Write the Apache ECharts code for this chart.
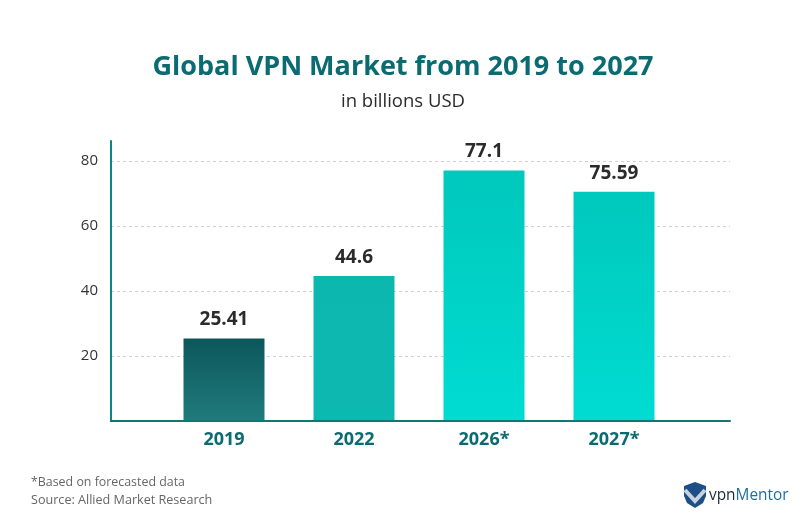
<!DOCTYPE html>
<html>
<head>
	<meta charset="utf-8">
	<title>Global VPN Market from 2019 to 2027</title>
	<style>
		html, body { margin: 0; padding: 0; background: #fff; }
		#chart { width: 806px; height: 524px; }
	</style>
	<script src="https://cdn.jsdelivr.net/npm/echarts@6/dist/echarts.min.js"></script>
</head>
<body>
<div id="chart"></div>
<script>
	var categories = ['2019', '2022', '2026*', '2027*'];
	// heights as drawn; the last bar is drawn lower than its printed label says
	var barValues = [25.41, 44.6, 77.1, 70.5];
	var barLabels = ['25.41', '44.6', '77.1', '75.59'];
	var yTicks = [20, 40, 60, 80];

	var fontName = '"Open Sans", "Noto Sans", sans-serif';
	var teal = '#0a6b70';

	function vFill(top, bottom) {
		return {
			type: 'linear', x: 0, y: 0, x2: 0, y2: 1,
			colorStops: [{ offset: 0, color: top }, { offset: 1, color: bottom }]
		};
	}
	var barFills = [
		vFill('#0c575b', '#1f7b7c'),
		vFill('#0cb7ae', '#0cb9b1'),
		vFill('#00c8bc', '#00dcd2'),
		vFill('#00c8bc', '#00dcd2')
	];

	var myChart = echarts.init(document.getElementById('chart'), null, { renderer: 'canvas' });

	var option = {
		animation: false,
		backgroundColor: '#fff',
		textStyle: { fontFamily: fontName },
		title: [
			{
				text: 'Global VPN Market from 2019 to 2027',
				left: 398, top: 49, textAlign: 'center',
				textStyle: { fontFamily: fontName, fontSize: 27, fontWeight: 'bold', color: teal }
			},
			{
				text: 'in billions USD',
				left: 398, top: 87, textAlign: 'center',
				textStyle: { fontFamily: fontName, fontSize: 18.5, fontWeight: 'normal', color: '#2b2b2b' }
			},
			{
				text: '*Based on forecasted data',
				left: 26, top: 471,
				textStyle: { fontFamily: fontName, fontSize: 12.4, fontWeight: 'normal', color: '#666' }
			},
			{
				text: 'Source: Allied Market Research',
				left: 26, top: 489,
				textStyle: { fontFamily: fontName, fontSize: 12.6, fontWeight: 'normal', color: '#666' }
			},
			{
				text: 'vpn{m|Mentor}',
				left: 704, top: 483,
				textStyle: {
					fontFamily: fontName, fontSize: 15.4, fontWeight: 'normal', color: '#1c2b3a',
					rich: { m: { fontFamily: fontName, fontSize: 15.4, color: '#1f6ea3' } }
				}
			}
		],
		// outer grid holds axis lines and gridlines, inner grid holds the bars
		grid: [
			{ left: 111, top: 141, width: 619, height: 280 },
			{ left: 159, top: 141, width: 520, height: 280 }
		],
		xAxis: [
			{
				gridIndex: 0, type: 'category', data: categories, z: 5,
				axisLine: { lineStyle: { color: '#0f7774', width: 2 } },
				axisTick: { show: false }, axisLabel: { show: false }
			},
			{
				gridIndex: 1, type: 'category', data: categories,
				axisLine: { show: false }, axisTick: { show: false },
				axisLabel: { margin: 10, fontFamily: fontName, fontSize: 18, fontWeight: 'bold', color: teal }
			}
		],
		yAxis: [
			{
				gridIndex: 0, type: 'value', min: 0, max: 86.15, interval: 20,
				axisLine: { show: true, lineStyle: { color: '#0f8582', width: 2 } },
				axisTick: { show: false },
				axisLabel: {
					margin: 13, showMinLabel: false, showMaxLabel: false,
					padding: [2, 0, 0, 0],
					fontFamily: fontName, fontSize: 15, color: '#333',
					formatter: function (v) { return yTicks.indexOf(v) >= 0 ? String(v) : ''; }
				},
				splitLine: {
					show: true, showMinLine: false, showMaxLine: false,
					lineStyle: { color: '#cfcfcf', width: 1, type: [3, 3] }
				}
			},
			{
				gridIndex: 1, type: 'value', min: 0, max: 86.15, interval: 20,
				axisLine: { show: false }, axisTick: { show: false },
				axisLabel: { show: false }, splitLine: { show: false }
			}
		],
		series: [{
			type: 'bar',
			xAxisIndex: 1,
			yAxisIndex: 1,
			barWidth: 81,
			data: barValues.map(function (v, i) {
				return { value: v, itemStyle: { color: barFills[i] } };
			}),
			label: {
				show: true, position: 'top', distance: 9,
				fontFamily: fontName, fontSize: 19, fontWeight: 'bold', color: '#2b2b2b',
				formatter: function (p) { return barLabels[p.dataIndex]; }
			}
		}],
		graphic: [
			// shield mark next to the logo text
			{
				type: 'polygon', silent: true,
				shape: { points: [[695, 482], [684, 486], [684, 496], [687, 503], [695, 508], [703, 503], [706, 496], [706, 486]] },
				style: { fill: '#1d4f86' }
			},
			{
				type: 'polyline', silent: true,
				shape: { points: [[685, 490], [695, 501], [705, 490]] },
				style: { stroke: '#c9d3de', lineWidth: 4, fill: 'none' }
			}
		]
	};

	myChart.setOption(option);
</script>
</body>
</html>
